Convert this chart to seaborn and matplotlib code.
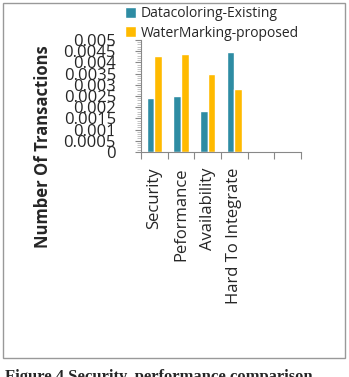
import numpy as np
import pandas as pd
import matplotlib
matplotlib.use("Agg")
import matplotlib.pyplot as plt
from matplotlib.patches import Rectangle
from matplotlib.ticker import MultipleLocator, FixedLocator
import seaborn as sns

categories = ["Security", "Peformance", "Availability", "Hard To Integrate"]
existing = [0.00242, 0.00251, 0.00183, 0.00448]
proposed = [0.00429, 0.00439, 0.00350, 0.00281]
series_names = ["Datacoloring-Existing", "WaterMarking-proposed"]
ytick_labels = ["0", "0.0005", "0.001", "0.0015", "0.002", "0.0025",
                "0.003", "0.0035", "0.004", "0.0045", "0.005"]

sns.set_style("white")
plt.rcParams["font.family"] = ["Open Sans", "DejaVu Sans"]

df = pd.DataFrame({
    "category": categories * 2,
    "value": existing + proposed,
    "series": [series_names[0]] * 4 + [series_names[1]] * 4,
})

fig = plt.figure(figsize=(3.49, 3.77), dpi=100)
ax = fig.add_axes([0.404, 0.597, 0.458, 0.297])

sns.barplot(data=df, x="category", y="value", hue="series", order=categories,
            palette=["#2E8CA3", "#FFBA00"], width=0.58, saturation=1,
            ax=ax, legend=True)

ax.set_xlim(-0.5, 5.5)
ax.set_ylim(0, 0.005)

# y axis: labelled ticks every 0.0005, dense minor ticks
yt = np.arange(len(ytick_labels)) * 0.0005
ax.set_yticks(yt)
ax.set_yticklabels(ytick_labels, fontsize=12)
ax.yaxis.set_minor_locator(MultipleLocator(0.0001))
ax.tick_params(axis="y", which="major", direction="out", length=4, width=0.8,
               color="#888888", pad=14, left=True)
ax.tick_params(axis="y", which="minor", direction="out", length=3, width=0.5,
               color="#aaaaaa", left=True)

# x axis: tick marks between categories, labels at centres
ax.xaxis.set_major_locator(FixedLocator(np.arange(-0.5, 6.0, 1.0)))
ax.set_xticklabels([])
ax.xaxis.set_minor_locator(FixedLocator(range(len(categories))))
ax.xaxis.set_minor_formatter(matplotlib.ticker.FixedFormatter(categories))
ax.tick_params(axis="x", which="major", direction="out", length=5, width=0.8,
               color="#888888", bottom=True)
ax.tick_params(axis="x", which="minor", length=0, labelsize=12,
               labelrotation=90, pad=11)

for s in ["top", "right"]:
    ax.spines[s].set_visible(False)
for s in ["left", "bottom"]:
    ax.spines[s].set_color("#888888")
    ax.spines[s].set_linewidth(0.8)

ax.set_xlabel("")
ax.set_ylabel("Number Of Transactions", fontsize=12, fontweight="bold")
ax.yaxis.set_label_coords(-0.556, 0.045)

handles, labels = ax.get_legend_handles_labels()
ax.legend_.remove()
fig.legend(handles, labels, loc="upper left", bbox_to_anchor=(0.335, 1.005),
           frameon=False, fontsize=10, handlelength=0.8, handleheight=0.8,
           handletextpad=0.3, labelspacing=0.3, borderaxespad=0.2)

fig.patches.append(Rectangle((3 / 349, 1 - 358 / 377), 342 / 349, 355 / 377,
                             transform=fig.transFigure, fill=False,
                             edgecolor="#999999", linewidth=1.0))

fig.text(5 / 349, 1 - 369 / 377, "Figure 4 Security, performance comparison",
         fontsize=12, fontweight="bold", va="top", ha="left",
         family=["Liberation Serif", "DejaVu Serif"])

fig.savefig("out.png", dpi=100)
plt.close(fig)
